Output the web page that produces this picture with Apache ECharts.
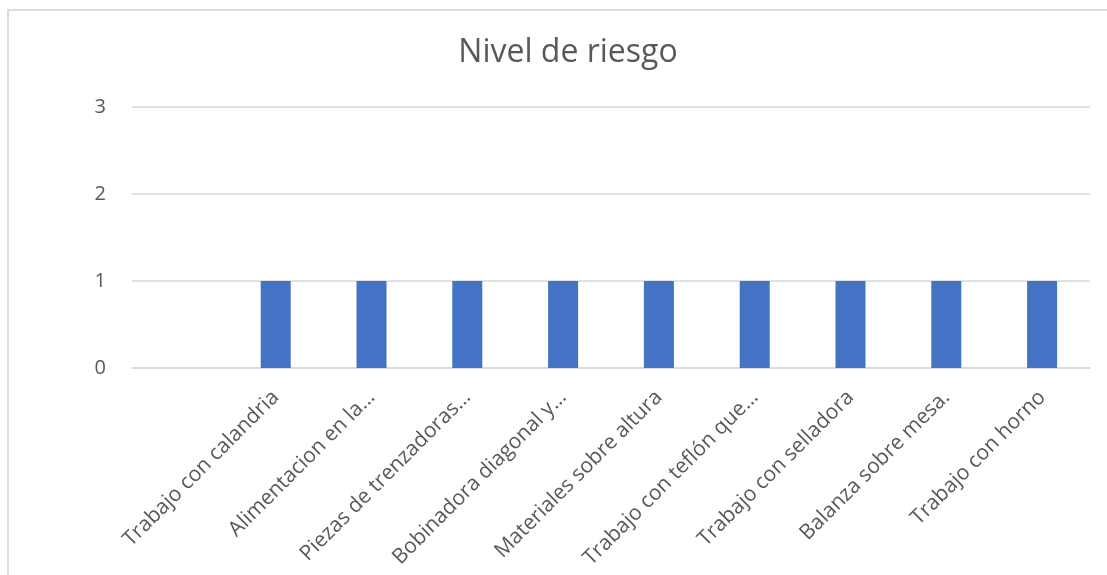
<!DOCTYPE html>
<html>
<head>
<meta charset="utf-8">
<script src="https://cdn.jsdelivr.net/npm/echarts@6/dist/echarts.min.js"></script>
<style>
  html, body { margin: 0; padding: 0; background: #ffffff; }
  .marco {
    position: absolute; left: 7px; top: 9px; width: 1110px; height: 580px;
    border: 2px solid #dcdcdc; box-sizing: border-box;
  }
  #grafico { position: absolute; left: 0; top: 0; width: 1107px; height: 575px; }
</style>
</head>
<body>
<div class="marco"></div>
<div id="grafico"></div>
<script>
// datos del gráfico
var titulo = 'Nivel de riesgo';
var categorias = [
  '',
  'Trabajo con calandria',
  'Alimentacion en la…',
  'Piezas de trenzadoras…',
  'Bobinadora diagonal y…',
  'Materiales sobre altura',
  'Trabajo con teflón que…',
  'Trabajo con selladora',
  'Balanza sobre mesa.',
  'Trabajo con horno'
];
var nivel = [null, 1, 1, 1, 1, 1, 1, 1, 1, 1];
var ejeY = { min: 0, max: 3, intervalo: 1 };

var chart = echarts.init(document.getElementById('grafico'));
chart.setOption({
  animation: false,
  title: {
    text: titulo,
    left: 563,
    top: 32,
    textAlign: 'center',
    textStyle: { fontFamily: 'Open Sans', fontSize: 32, fontWeight: 'normal', color: '#595959' }
  },
  grid: { left: 132, right: 17, top: 107, bottom: 207, containLabel: false },
  xAxis: {
    type: 'category',
    data: categorias,
    axisLine: { lineStyle: { color: '#d9d9d9', width: 1.5 } },
    axisTick: { show: false },
    axisLabel: {
      interval: 0,
      rotate: 45,
      margin: 26,
      fontFamily: 'Open Sans',
      fontSize: 21,
      color: '#595959'
    }
  },
  yAxis: {
    type: 'value',
    min: ejeY.min,
    max: ejeY.max,
    interval: ejeY.intervalo,
    axisLine: { show: false },
    axisTick: { show: false },
    splitLine: { lineStyle: { color: '#d9d9d9', width: 1.5 } },
    axisLabel: { margin: 26, fontFamily: 'Open Sans', fontSize: 20, color: '#595959' }
  },
  series: [{
    type: 'bar',
    data: nivel,
    barWidth: 30,
    itemStyle: { color: '#4472c4' }
  }]
});
</script>
</body>
</html>
